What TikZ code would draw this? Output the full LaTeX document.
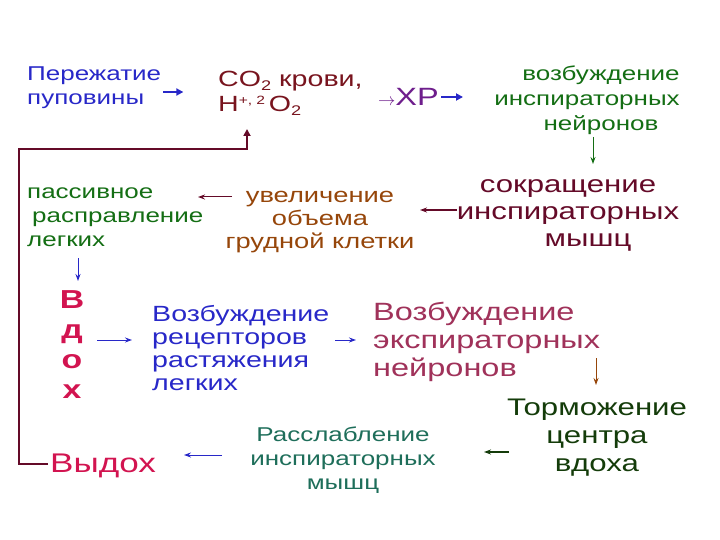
\documentclass[tikz,border=0pt]{standalone}
\usepackage{fontspec}
\setmainfont{Liberation Sans}[FakeStretch=1.3]
\usetikzlibrary{arrows.meta}
\definecolor{cblue}{RGB}{40,40,200}
\definecolor{cdred}{RGB}{120,20,30}
\definecolor{cpurp}{RGB}{110,30,140}
\definecolor{cgreen}{RGB}{20,110,20}
\definecolor{cmaroon}{RGB}{100,10,40}
\definecolor{cbrown}{RGB}{150,70,10}
\definecolor{ccrim}{RGB}{210,20,80}
\definecolor{cmauve}{RGB}{160,50,90}
\definecolor{cdgreen}{RGB}{20,60,10}
\definecolor{cteal}{RGB}{30,110,90}
\newcommand{\lowsub}[1]{\raisebox{-4pt}{\fontsize{14}{14}\selectfont #1}}
\newcommand{\hisup}[1]{\raisebox{7pt}{\fontsize{12}{12}\selectfont #1}}
\begin{document}
\begin{tikzpicture}[x=1pt,y=-1pt,
  t/.style={inner sep=0pt,align=#1},
  t/.default=left,
  ar/.style={-{Stealth[length=7pt,width=5pt]},line width=1pt},
  bar/.style={-{Triangle[length=7pt,width=7pt]},line width=2.4pt,cblue}]
\useasboundingbox (0,0) rectangle (720,540);
\node[t,anchor=west,text=cblue,font=\fontsize{20}{24}\selectfont] (per) at (27,88) {Пережатие\\пуповины};
\node[t,anchor=west,text=cdred,font=\fontsize{22}{25}\selectfont] (co) at (218,93) {CO\lowsub{2} крови,\\H\hisup{+,}\hisup{\hspace*{4pt}2}\hspace*{4pt}O\lowsub{2}};
\node[t,anchor=west,text=cpurp,font=\fontsize{25}{28}\selectfont] (xr) at (378,97) {\fontsize{16}{16}\selectfont$\rightarrow$\fontsize{25}{28}\selectfont ХР};
\node[t=center,text=cgreen,font=\fontsize{20}{25}\selectfont] (voz) at (587,100) {\hspace*{28pt}возбуждение\\инспираторных\\\hspace*{28pt}нейронов};
\node[t=center,text=cmaroon,font=\fontsize{24}{27}\selectfont] (sok) at (568,215) {сокращение\\инспираторных\\\hspace*{40pt}мышц};
\node[t=center,text=cbrown,font=\fontsize{21}{23}\selectfont] (uv) at (320,222) {увеличение\\объема\\грудной клетки};
\node[t,anchor=west,text=cgreen,font=\fontsize{20}{24}\selectfont] (pas) at (27,217) {пассивное\\\hspace*{5pt}расправление\\легких};
\node[t=center,text=ccrim,font=\bfseries\fontsize{26}{30}\selectfont] (vdoh) at (72,345) {В\\д\\о\\х};
\node[t,anchor=west,text=cblue,font=\fontsize{22}{23}\selectfont] (rec) at (152,348) {Возбуждение\\рецепторов\\растяжения\\легких};
\node[t,anchor=west,text=cmauve,font=\fontsize{25}{28}\selectfont] (eks) at (373,342) {Возбуждение\\экспираторных\\нейронов};
\node[t=center,text=cdgreen,font=\fontsize{24}{28}\selectfont] (tor) at (597,438) {Торможение\\центра\\вдоха};
\node[t=center,text=cteal,font=\fontsize{20}{24}\selectfont] (ras) at (343,460) {Расслабление\\инспираторных\\мышц};
\node[t,anchor=west,text=ccrim,font=\fontsize{27}{30}\selectfont] (vyd) at (50,466) {Выдох};
% arrows
\draw[bar] (per.east)+(2,4) -- +(22,4);
\draw[bar] (xr.east)+(2,0) -- +(24,0);
\draw[ar,cgreen] (593,137) -- (593,164);
\draw[ar,cmaroon,line width=1.6pt] (457,210) -- (420,210);
\draw[ar,cmaroon] (232,197) -- (198,197);
\draw[ar,cblue] (78,258) -- (78,281);
\draw[ar,cblue] (97,340) -- (132,340);
\draw[ar,cblue] (335,340) -- (356,340);
\draw[ar,cbrown] (596,358) -- (596,385);
\draw[ar,cdgreen,line width=1.6pt] (509,452) -- (484,452);
\draw[ar,cblue] (222,455) -- (184,455);
\draw[-{Triangle[length=7pt,width=7pt]},line width=1.8pt,cmaroon] (48,464) -- (19,464) -- (19,149) -- (247,149) -- (247,129);
\end{tikzpicture}
\end{document}
